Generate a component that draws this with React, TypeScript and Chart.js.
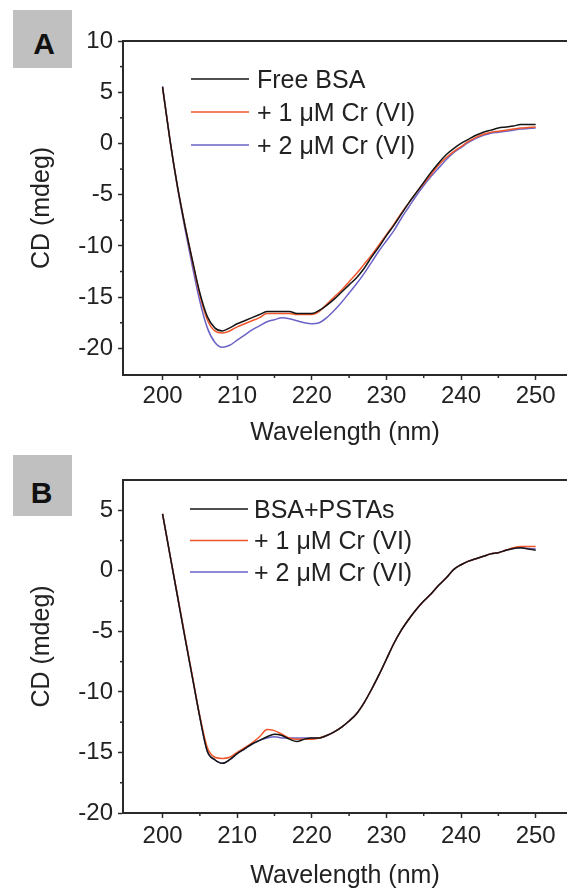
import React, { useEffect, useRef } from 'react';
import { Chart, registerables } from 'chart.js';

Chart.register(...registerables);

// ---------- data ----------
const wavelengths = [
  200, 201, 202, 203, 204, 205, 206, 207, 208, 209,
  210, 211, 212, 213, 214, 215, 216, 217, 218, 219,
  220, 221, 222, 223, 224, 225, 226, 227, 228, 229,
  230, 231, 232, 233, 234, 235, 236, 237, 238, 239,
  240, 241, 242, 243, 244, 245, 246, 247, 248, 249, 250,
];

// Panel A
const freeBSA = [
  5.5, 0.3, -4.2, -8.0, -11.4, -14.6, -16.9, -18.0, -18.3, -18.0,
  -17.6, -17.3, -17.0, -16.7, -16.4, -16.4, -16.4, -16.4, -16.6, -16.6,
  -16.6, -16.3, -15.8, -15.2, -14.5, -13.8, -13.1, -12.2, -11.1, -10.1,
  -9.0, -8.0, -6.9, -5.8, -4.8, -3.8, -2.8, -1.9, -1.1, -0.5,
  0.0, 0.4, 0.8, 1.1, 1.3, 1.5, 1.6, 1.7, 1.85, 1.85, 1.85,
];
const a1uMCr = [
  5.5, 0.3, -4.2, -8.0, -11.5, -14.8, -17.2, -18.3, -18.5, -18.3,
  -17.9, -17.6, -17.3, -17.0, -16.6, -16.6, -16.6, -16.6, -16.7, -16.7,
  -16.7, -16.4, -15.7, -15.0, -14.3, -13.5, -12.7, -11.8, -10.9, -9.9,
  -8.9, -7.9, -6.8, -5.8, -4.8, -3.9, -3.0, -2.1, -1.4, -0.8,
  -0.3, 0.2, 0.6, 0.9, 1.1, 1.2, 1.3, 1.4, 1.5, 1.55, 1.6,
];
const a2uMCr = [
  5.6, 0.3, -4.3, -8.3, -12.0, -15.4, -18.0, -19.4, -19.9, -19.7,
  -19.2, -18.7, -18.2, -17.8, -17.4, -17.2, -17.0, -17.1, -17.3, -17.5,
  -17.6, -17.5, -17.0, -16.3, -15.5, -14.6, -13.7, -12.7, -11.6, -10.5,
  -9.5, -8.5, -7.3, -6.2, -5.1, -4.1, -3.2, -2.4, -1.6, -0.9,
  -0.4, 0.1, 0.5, 0.8, 1.0, 1.1, 1.2, 1.3, 1.4, 1.45, 1.5,
];

// Panel B
const bsaPSTAs = [
  4.7, 1.3, -2.1, -5.5, -8.8, -12.1, -14.9, -15.6, -15.9, -15.6,
  -15.1, -14.7, -14.3, -14.0, -13.7, -13.5, -13.6, -13.9, -14.1, -13.9,
  -13.8, -13.8, -13.6, -13.3, -12.9, -12.4, -11.8, -10.9, -9.8, -8.6,
  -7.3, -6.0, -4.9, -4.0, -3.2, -2.5, -1.9, -1.2, -0.6, 0.1,
  0.5, 0.8, 1.0, 1.2, 1.4, 1.5, 1.7, 1.85, 1.9, 1.8, 1.7,
];
const b1uMCr = [
  4.7, 1.3, -2.0, -5.4, -8.7, -12.0, -14.6, -15.4, -15.5, -15.4,
  -15.0, -14.6, -14.2, -13.7, -13.1, -13.2, -13.5, -13.8, -13.9, -13.9,
  -13.9, -13.8, -13.6, -13.3, -12.9, -12.4, -11.8, -10.9, -9.8, -8.6,
  -7.3, -6.0, -4.9, -4.0, -3.2, -2.5, -1.9, -1.2, -0.6, 0.1,
  0.5, 0.8, 1.0, 1.2, 1.4, 1.5, 1.7, 1.9, 2.0, 2.0, 2.0,
];
const b2uMCr = [
  4.7, 1.3, -2.1, -5.5, -8.8, -12.1, -14.9, -15.6, -15.9, -15.6,
  -15.1, -14.7, -14.3, -14.0, -13.8, -13.7, -13.8, -13.8, -13.8, -13.8,
  -13.8, -13.8, -13.6, -13.3, -12.9, -12.4, -11.8, -10.9, -9.8, -8.6,
  -7.3, -6.0, -4.9, -4.0, -3.2, -2.5, -1.9, -1.2, -0.6, 0.1,
  0.5, 0.8, 1.0, 1.2, 1.4, 1.5, 1.7, 1.85, 1.9, 1.85, 1.8,
];

const legendA = ['Free BSA', '+ 1 \u03BCM Cr (VI)', '+ 2 \u03BCM Cr (VI)'];
const legendB = ['BSA+PSTAs', '+ 1 \u03BCM Cr (VI)', '+ 2 \u03BCM Cr (VI)'];

const xMajorTicks = [200, 210, 220, 230, 240, 250];
const xMinorTicks = [205, 215, 225, 235, 245];
const yMajorTicksA = [-20, -15, -10, -5, 0, 5, 10];
const yMinorTicksA = [-17.5, -12.5, -7.5, -2.5, 2.5, 7.5];
const yMajorTicksB = [-20, -15, -10, -5, 0, 5];
const yMinorTicksB = [-17.5, -12.5, -7.5, -2.5, 2.5];

const xTitle = 'Wavelength (nm)';
const yTitle = 'CD (mdeg)';

// ---------- styles ----------
const FONT = "'Liberation Sans', Arial, Helvetica, sans-serif";
const TEXT = '#222222';
const AXIS = '#2a2a2a';
const COLORS = ['#141414', '#f0562a', '#6b63c6'];
const LABEL_BG = '#c0c0c0';

const decorPlugin = {
  id: 'decor',
  afterDraw(chart: any, _args: any, opts: any) {
    const { ctx, chartArea, scales } = chart;
    const { left, right, top, bottom } = chartArea;
    const x = scales.x;
    const y = scales.y;
    ctx.save();
    // top frame line
    ctx.strokeStyle = AXIS;
    ctx.lineWidth = 2;
    ctx.beginPath();
    ctx.moveTo(left - 1, top);
    ctx.lineTo(right, top);
    ctx.stroke();
    // minor ticks
    ctx.lineWidth = 1.5;
    (opts.xMinor || []).forEach((v: number) => {
      const px = x.getPixelForValue(v);
      ctx.beginPath();
      ctx.moveTo(px, bottom);
      ctx.lineTo(px, bottom + 3);
      ctx.stroke();
    });
    (opts.yMinor || []).forEach((v: number) => {
      const py = y.getPixelForValue(v);
      ctx.beginPath();
      ctx.moveTo(left - 3, py);
      ctx.lineTo(left, py);
      ctx.stroke();
    });
    // legend
    ctx.font = `25px ${FONT}`;
    ctx.textBaseline = 'middle';
    ctx.textAlign = 'left';
    chart.data.datasets.forEach((ds: any, i: number) => {
      const yy = top + opts.legendY + i * opts.legendDy;
      const x0 = left + opts.legendX;
      ctx.strokeStyle = ds.borderColor;
      ctx.lineWidth = 1.5;
      ctx.beginPath();
      ctx.moveTo(x0, yy);
      ctx.lineTo(x0 + opts.legendLine, yy);
      ctx.stroke();
      ctx.fillStyle = TEXT;
      ctx.fillText(ds.label, x0 + opts.legendLine + opts.legendGap, yy + 2);
    });
    ctx.restore();
  },
};

type PanelProps = {
  series: number[][];
  labels: string[];
  yMin: number;
  yMax: number;
  yMajor: number[];
  yMinor: number[];
  height: number;
  padTop: number;
  plotBottom: number;
  tickPad: number;
  titlePadBottom: number;
  legendX: number;
  legendY: number;
  legendDy: number;
  legendGap: number;
  top: number;
};

function Panel(p: PanelProps) {
  const ref = useRef<HTMLCanvasElement | null>(null);
  useEffect(() => {
    if (!ref.current) return;
    const datasets = p.series.map((vals, i) => ({
      label: p.labels[i],
      data: wavelengths.map((w, j) => ({ x: w, y: vals[j] })),
      borderColor: COLORS[i],
      backgroundColor: COLORS[i],
      borderWidth: 1.5,
      pointRadius: 0,
      cubicInterpolationMode: 'monotone' as const,
      fill: false,
    }));
    const tickFont = { family: FONT, size: 24 };
    const chart = new Chart(ref.current, {
      type: 'line',
      data: { datasets },
      options: {
        animation: false,
        responsive: false,
        devicePixelRatio: 1,
        layout: { padding: { top: p.padTop, left: 0, right: 0, bottom: 0 } },
        plugins: {
          legend: { display: false },
          tooltip: { enabled: false },
          decor: {
            xMinor: xMinorTicks,
            yMinor: p.yMinor,
            legendX: p.legendX,
            legendY: p.legendY,
            legendDy: p.legendDy,
            legendLine: 58,
            legendGap: p.legendGap,
          },
        } as any,
        scales: {
          x: {
            type: 'linear',
            min: 194.7,
            max: 254.2,
            afterBuildTicks: (s: any) => {
              s.ticks = xMajorTicks.map((v) => ({ value: v }));
            },
            afterFit: (s: any) => {
              s.height = p.height - p.plotBottom;
            },
            ticks: {
              font: tickFont,
              color: TEXT,
              padding: p.tickPad,
              maxRotation: 0,
              autoSkip: false,
            },
            grid: {
              drawOnChartArea: false,
              tickLength: 5,
              tickColor: AXIS,
              tickWidth: 1.5,
            },
            border: { color: AXIS, width: 2 },
            title: {
              display: true,
              text: xTitle,
              color: TEXT,
              font: { family: FONT, size: 25, lineHeight: 1 },
              padding: { top: 0, bottom: p.titlePadBottom },
            },
          },
          y: {
            type: 'linear',
            min: p.yMin,
            max: p.yMax,
            afterBuildTicks: (s: any) => {
              s.ticks = p.yMajor.map((v) => ({ value: v }));
            },
            afterFit: (s: any) => {
              s.width = 123;
            },
            ticks: {
              font: tickFont,
              color: TEXT,
              padding: 5,
              autoSkip: false,
            },
            grid: {
              drawOnChartArea: false,
              tickLength: 5,
              tickColor: AXIS,
              tickWidth: 1.5,
            },
            border: { color: AXIS, width: 2 },
            title: {
              display: true,
              text: yTitle,
              color: TEXT,
              font: { family: FONT, size: 25, lineHeight: 1 },
              padding: { top: 29.5, bottom: 0 },
            },
          },
        },
      } as any,
      plugins: [decorPlugin as any],
    });
    return () => chart.destroy();
  }, []);
  return (
    <canvas
      ref={ref}
      width={567}
      height={p.height}
      style={{ position: 'absolute', left: 0, top: p.top, width: 567, height: p.height }}
    />
  );
}

function PanelLabel({ text, left, top, width, height, textTop, centerX }: any) {
  return (
    <>
      <div
        style={{
          position: 'absolute',
          left,
          top,
          width,
          height,
          background: LABEL_BG,
        }}
      />
      <div
        style={{
          position: 'absolute',
          left: 0,
          width: centerX * 2,
          top: textTop,
          textAlign: 'center',
          font: `bold 30px ${FONT}`,
          lineHeight: '30px',
          color: '#111',
        }}
      >
        {text}
      </div>
    </>
  );
}

export default function App() {
  useEffect(() => {
    document.body.style.margin = '0';
    document.body.style.overflow = 'hidden';
    document.body.style.background = '#ffffff';
  }, []);
  return (
    <div style={{ position: 'relative', width: 567, height: 889, overflow: 'hidden', background: '#fff' }}>
      <PanelLabel text="A" left={13} top={10} width={59} height={58} textTop={29} centerX={44} />
      <PanelLabel text="B" left={13} top={455} width={59} height={61} textTop={478} centerX={41.5} />
      <Panel
        series={[freeBSA, a1uMCr, a2uMCr]}
        labels={legendA}
        yMin={-22.6}
        yMax={10}
        yMajor={yMajorTicksA}
        yMinor={yMinorTicksA}
        height={460}
        padTop={41}
        plotBottom={375}
        tickPad={2}
        titlePadBottom={14.5}
        legendX={68}
        legendY={38}
        legendDy={33}
        legendGap={8}
        top={0}
      />
      <Panel
        series={[bsaPSTAs, b1uMCr, b2uMCr]}
        labels={legendB}
        yMin={-20}
        yMax={7.5}
        yMajor={yMajorTicksB}
        yMinor={yMinorTicksB}
        height={449}
        padTop={40}
        plotBottom={373}
        tickPad={4}
        titlePadBottom={0.5}
        legendX={67}
        legendY={29}
        legendDy={31.5}
        legendGap={6}
        top={440}
      />
    </div>
  );
}
